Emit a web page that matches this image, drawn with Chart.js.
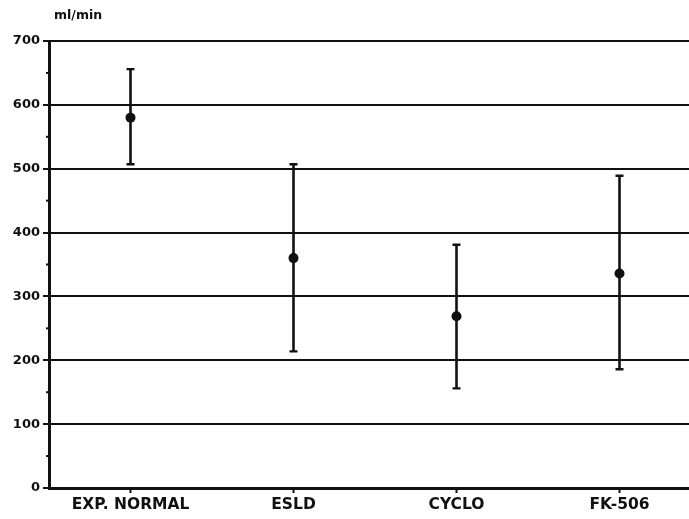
<!DOCTYPE html>
<html>
<head>
<meta charset="utf-8">
<script src="https://cdn.jsdelivr.net/npm/chart.js@4.4.1/dist/chart.umd.min.js"></script>
<style>
    html, body { margin: 0; padding: 0; background: #fff; overflow: hidden; }
    canvas { display: block; }
</style>
</head>
<body>
<canvas id="flowChart" width="706" height="519"></canvas>
<script>
// Values (ml/min)
const groups = ['EXP. NORMAL', 'ESLD', 'CYCLO', 'FK-506'];
const means = [580, 360, 269, 336];
const upper = [656, 507, 381, 489];
const lower = [507, 214, 156, 186];
const yTicks = [0, 100, 200, 300, 400, 500, 600, 700];
const yMinorTicks = [50, 150, 250, 350, 450, 550, 650];

const ink = '#111111';

// Error bars + minor ticks, positioned through the chart's scales
const errorBars = {
    id: 'errorBars',
    beforeDatasetsDraw(chart) {
        const { ctx, scales: { x, y } } = chart;
        ctx.save();
        ctx.strokeStyle = ink;
        groups.forEach((g, i) => {
            const px = x.getPixelForValue(i);
            const top = y.getPixelForValue(upper[i]);
            const bot = y.getPixelForValue(lower[i]);
            ctx.lineWidth = 2.6;
            ctx.beginPath();
            ctx.moveTo(px, top);
            ctx.lineTo(px, bot);
            ctx.stroke();
            ctx.lineWidth = 2.4;
            ctx.beginPath();
            ctx.moveTo(px - 4, top);
            ctx.lineTo(px + 4, top);
            ctx.moveTo(px - 4, bot);
            ctx.lineTo(px + 4, bot);
            ctx.stroke();
        });
        ctx.restore();
    },
    afterDraw(chart) {
        const { ctx, chartArea, scales: { y } } = chart;
        ctx.save();
        ctx.strokeStyle = ink;
        ctx.lineWidth = 2;
        yMinorTicks.forEach(v => {
            const py = y.getPixelForValue(v);
            ctx.beginPath();
            ctx.moveTo(chartArea.left - 3, py);
            ctx.lineTo(chartArea.left, py);
            ctx.stroke();
        });
        // unit label above the axis
        ctx.fillStyle = ink;
        ctx.font = 'bold 12.5px "DejaVu Sans", sans-serif';
        ctx.textAlign = 'left';
        ctx.textBaseline = 'middle';
        ctx.fillText('ml/min', chartArea.left + 5, 16);
        ctx.restore();
    }
};

new Chart(document.getElementById('flowChart').getContext('2d'), {
    type: 'line',
    data: {
        labels: groups,
        datasets: [{
            data: means,
            showLine: false,
            pointRadius: 5,
            pointHoverRadius: 5,
            pointBackgroundColor: ink,
            pointBorderColor: ink,
            pointBorderWidth: 0
        }]
    },
    options: {
        responsive: false,
        animation: false,
        layout: { padding: { top: 41, right: 0, left: 0, bottom: 0 } },
        plugins: {
            legend: { display: false },
            tooltip: { enabled: false }
        },
        scales: {
            x: {
                offset: true,
                afterFit(scale) { scale.height = 31; },
                border: { color: ink, width: 3 },
                grid: {
                    drawOnChartArea: false,
                    drawTicks: true,
                    tickLength: 5,
                    tickColor: ink,
                    tickWidth: 2
                },
                ticks: {
                    color: ink,
                    padding: 3,
                    maxRotation: 0,
                    font: { family: '"DejaVu Sans", sans-serif', size: 15.5, weight: 'bold' }
                }
            },
            y: {
                min: 0,
                max: 700,
                afterFit(scale) { scale.width = 49; },
                afterBuildTicks(scale) {
                    scale.ticks = yTicks.map(v => ({ value: v }));
                },
                border: { color: ink, width: 3 },
                grid: {
                    color: ink,
                    lineWidth: 2,
                    tickLength: 6,
                    tickColor: ink,
                    tickWidth: 2
                },
                ticks: {
                    color: ink,
                    padding: 3,
                    font: { family: '"DejaVu Sans", sans-serif', size: 13, weight: 'bold' }
                }
            }
        }
    },
    plugins: [errorBars]
});
</script>
</body>
</html>
